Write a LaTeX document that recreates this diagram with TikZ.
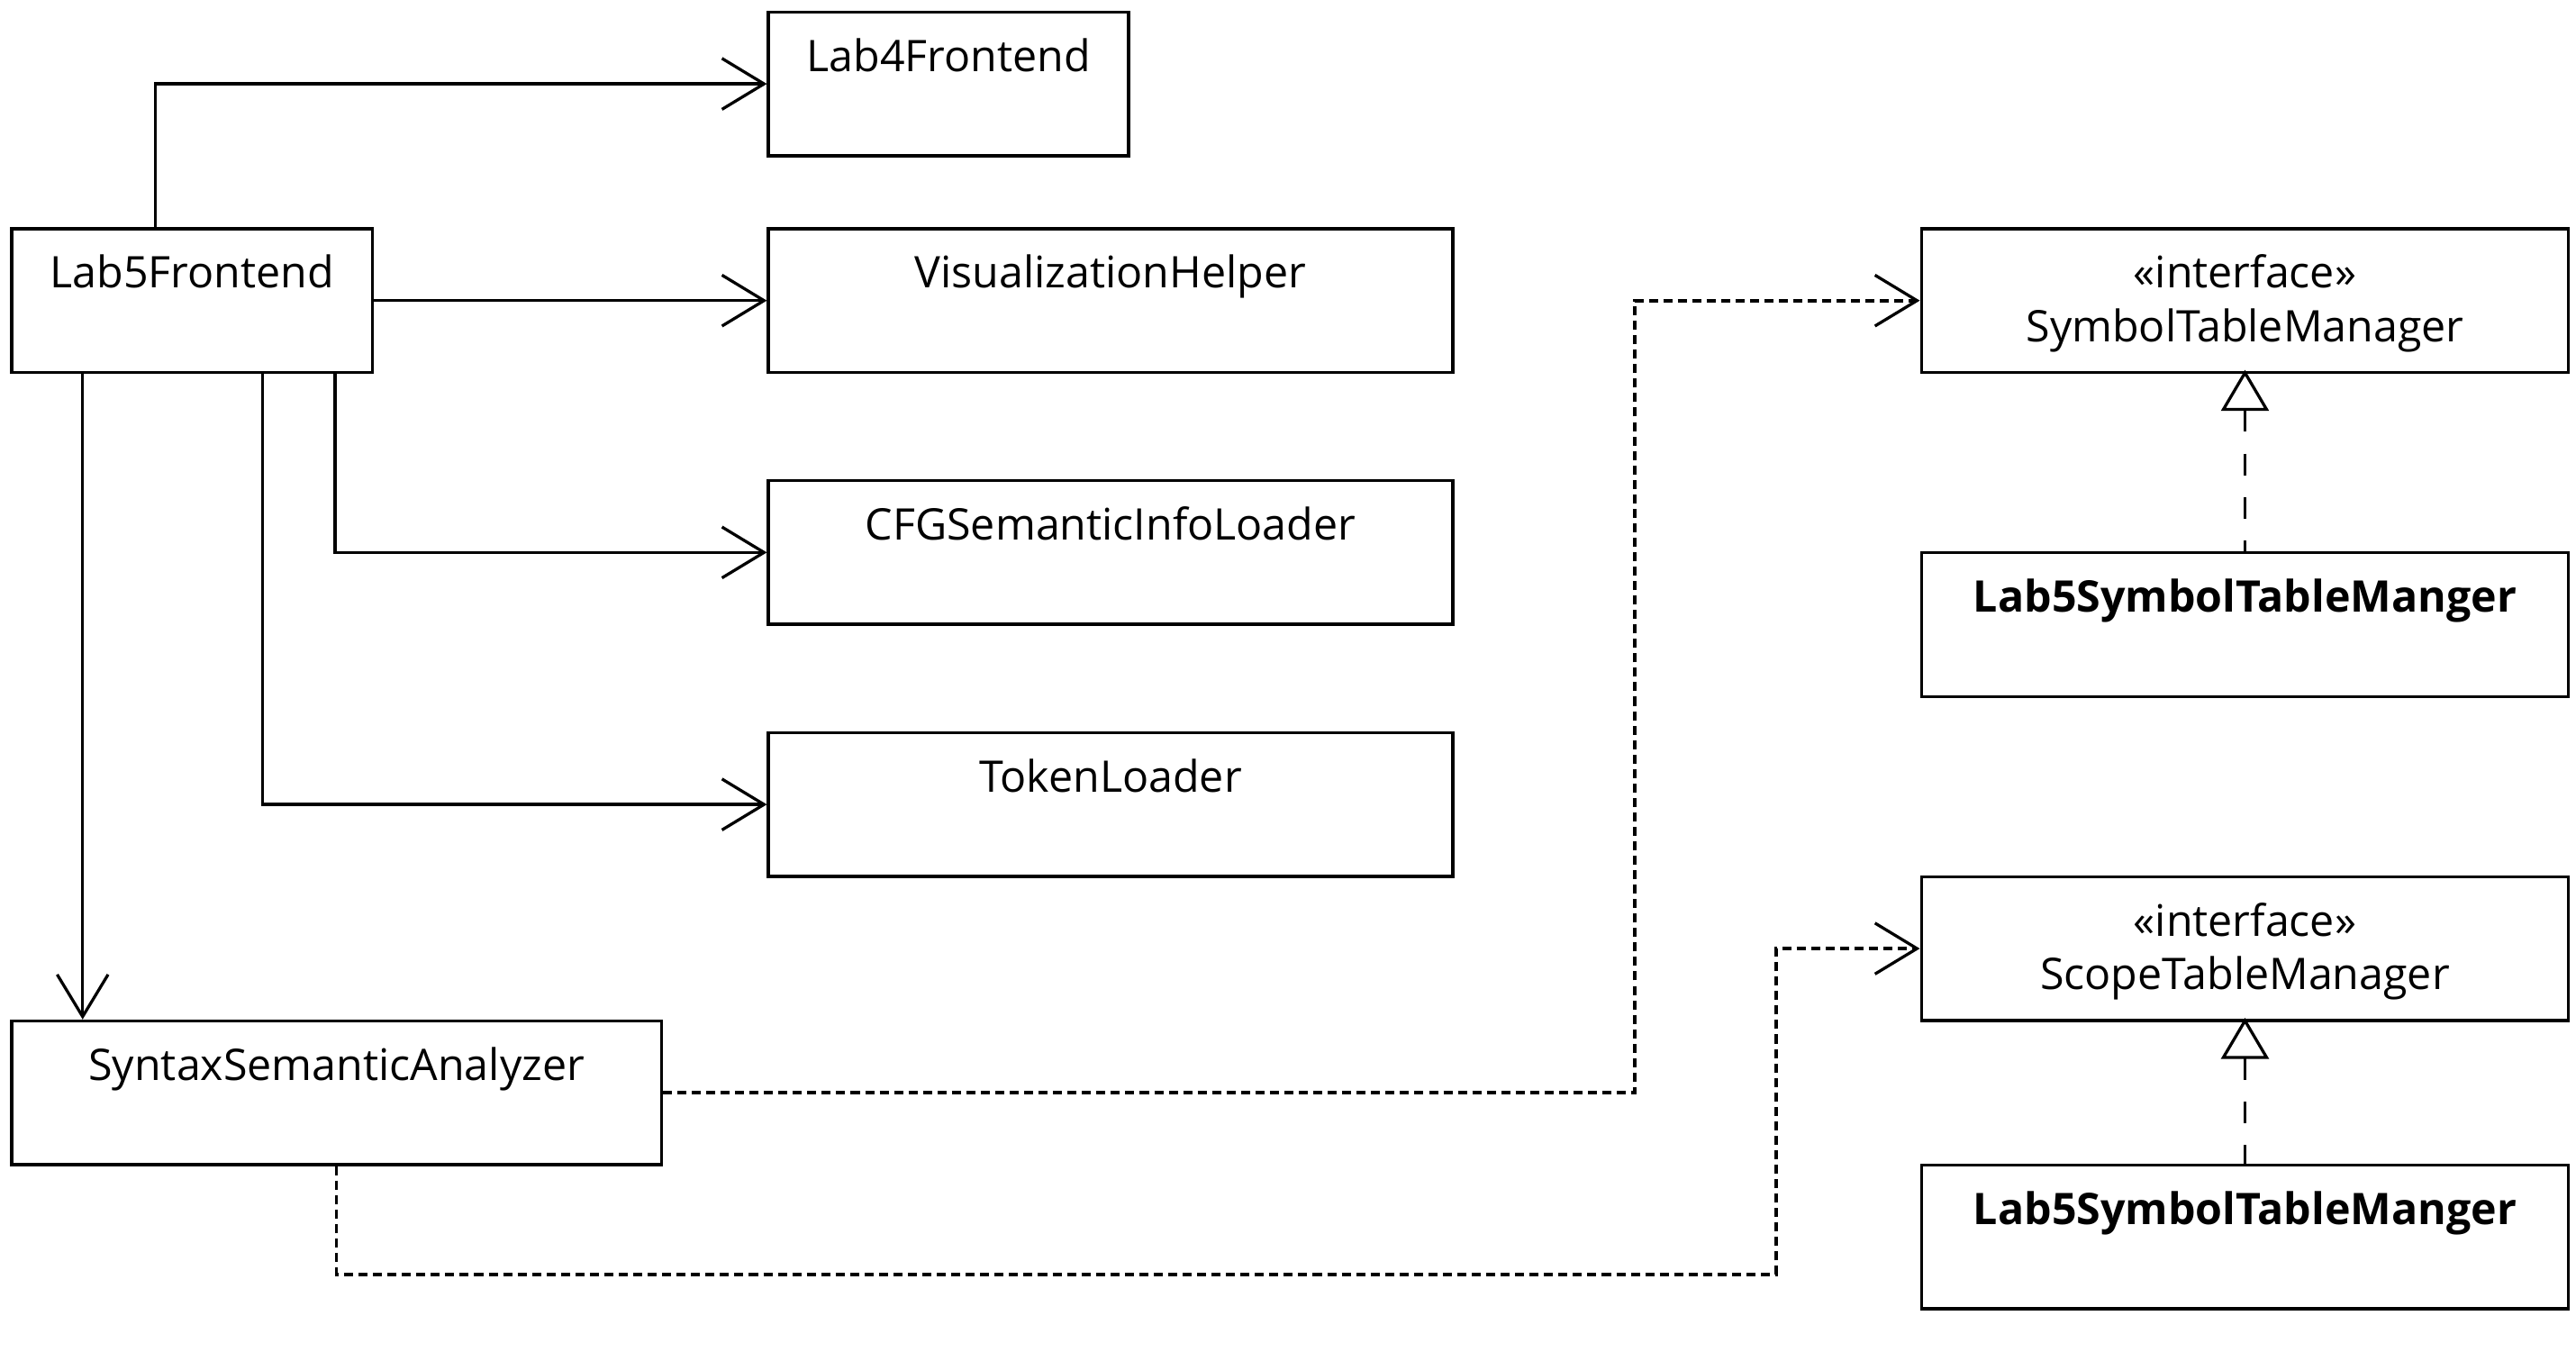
\documentclass[tikz,border=0pt]{standalone}
\usepackage{fontspec}
\setmainfont{Open Sans}
\usetikzlibrary{arrows.meta}

\tikzset{
  cls/.style={draw, line width=1.8pt, rectangle, anchor=north west, inner sep=0pt,
    minimum height=87.5pt, text height=36.2pt, text depth=51.3pt, align=center,
    font=\fontsize{26.5}{32.4}\selectfont},
  assoc/.style={line width=1.8pt, -{Straight Barb[length=25.6pt, width=31pt]}},
  dep/.style={line width=2pt, dash pattern=on 5.5pt off 3.3pt, -{Straight Barb[length=25.6pt, width=31pt, line width=1.8pt]}},
  real/.style={line width=1.8pt, dash pattern=on 13.2pt off 13.2pt, shorten <=-2.5pt, {Triangle[open, length=25pt, width=29pt]}-},
}

\begin{document}
\begin{tikzpicture}[x=1pt,y=1pt,yscale=-1,xscale=1]
\useasboundingbox (0,0) rectangle (1568,822.4);

% Classes
\node[cls, text width=219.4pt] (lab5) at (6.3,138.3) {Lab5Frontend};
\node[cls, text width=219.3pt] (lab4) at (466.8,6.4) {Lab4Frontend};
\node[cls, text width=416.6pt] (vis) at (466.8,138.3) {VisualizationHelper};
\node[cls, text width=416.6pt] (cfg) at (466.8,291.6) {CFGSemanticInfoLoader};
\node[cls, text width=416.6pt] (tok) at (466.8,445) {TokenLoader};
\node[cls, text width=395.3pt] (syn) at (6.3,620.5) {SyntaxSemanticAnalyzer};

% Interfaces and implementations
\node[cls, text width=394pt] (stm) at (1168.6,138.3) {«interface»\\SymbolTableManager};
\node[cls, text width=394pt] (stmimpl) at (1168.6,335.5) {\bfseries Lab5SymbolTableManger};
\node[cls, text width=394pt] (scm) at (1168.6,532.7) {«interface»\\ScopeTableManager};
\node[cls, text width=394pt] (scmimpl) at (1168.6,708.2) {\bfseries Lab5SymbolTableManger};

% Associations
\draw[assoc] ([xshift=88.1pt]lab5.north west) |- (lab4.west);
\draw[assoc] (lab5.east) -- (vis.west);
\draw[assoc] ([xshift=197.7pt]lab5.south west) |- (cfg.west);
\draw[assoc] ([xshift=153.6pt]lab5.south west) |- (tok.west);
\draw[assoc] ([xshift=44pt]lab5.south west) -- ([xshift=44pt]syn.north west);

% Dependencies
\draw[dep] (syn.east) -- ++(591.6,0) |- (stm.west);
\draw[dep] (syn.south) -- ++(0,65.8) -| ([xshift=-87.6pt]scm.west) -- (scm.west);

% Realizations
\draw[real] (stm.south) -- (stmimpl.north);
\draw[real] (scm.south) -- (scmimpl.north);

\end{tikzpicture}
\end{document}
